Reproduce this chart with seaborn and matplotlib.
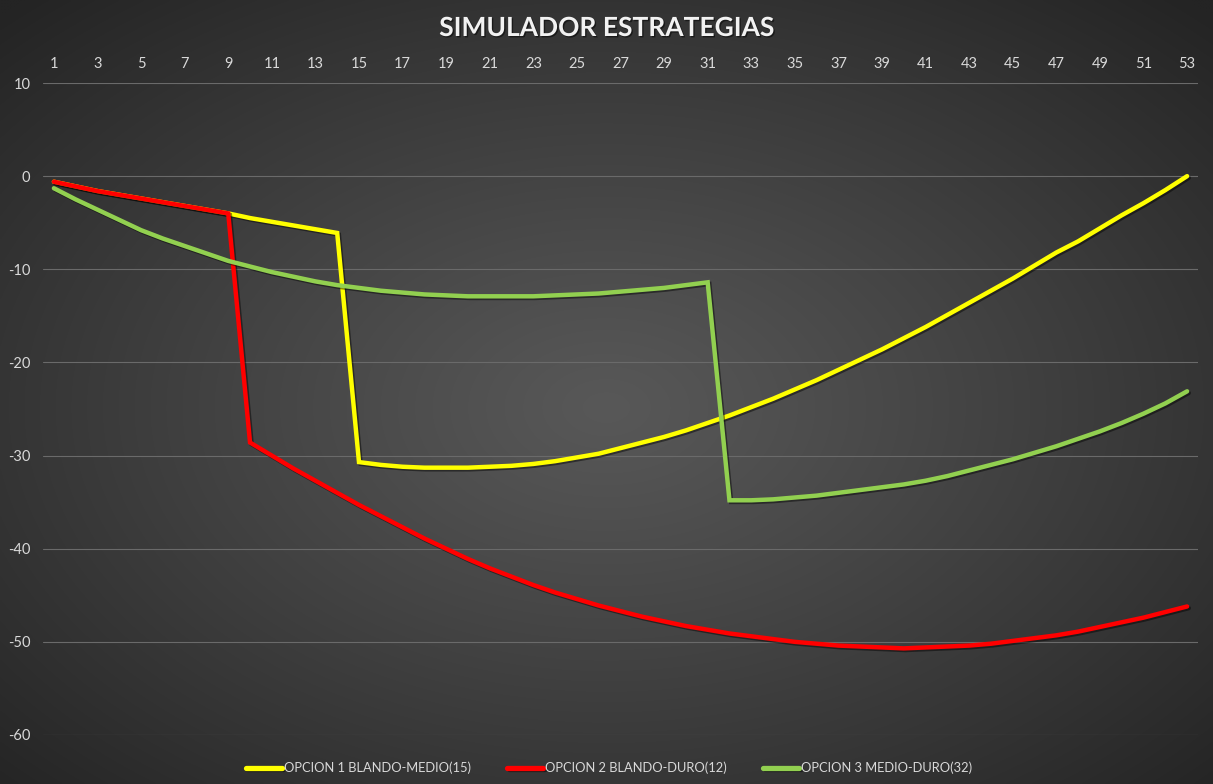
import numpy as np
import pandas as pd
import matplotlib
matplotlib.use("Agg")
import matplotlib.pyplot as plt
import matplotlib.patheffects as pe
import seaborn as sns

# ---------------- data ----------------
semanas = list(range(1, 54))

opcion1 = [-0.6, -1.1, -1.6, -2.0, -2.4, -2.8, -3.2, -3.6, -4.0,
           -4.5, -4.9, -5.3, -5.7, -6.1,
           -30.7, -31.0, -31.2, -31.3, -31.3, -31.3, -31.2, -31.1, -30.9, -30.6,
           -30.2, -29.8, -29.2, -28.6, -28.0, -27.3, -26.5, -25.7,
           -24.8, -23.9, -22.9, -21.9, -20.8, -19.7, -18.6, -17.4, -16.2, -14.9,
           -13.6, -12.3, -11.0, -9.6, -8.2, -7.0, -5.6, -4.2, -2.9, -1.5, 0.0]

opcion2 = [-0.6, -1.1, -1.6, -2.0, -2.4, -2.8, -3.2, -3.6, -4.0,
           -28.6, -30.0, -31.4, -32.7, -34.0, -35.3, -36.5, -37.7, -38.9, -40.0,
           -41.1, -42.1, -43.0, -43.9, -44.7, -45.4, -46.1, -46.7, -47.3, -47.8,
           -48.3, -48.7, -49.1, -49.4, -49.7, -50.0, -50.2, -50.4, -50.5, -50.6,
           -50.7, -50.6, -50.5, -50.4, -50.2, -49.9, -49.6, -49.3, -48.9, -48.4,
           -47.9, -47.4, -46.8, -46.2]

opcion3 = [-1.3, -2.5, -3.6, -4.7, -5.8, -6.7, -7.5, -8.3, -9.1, -9.7,
           -10.3, -10.8, -11.3, -11.7, -12.0, -12.3, -12.5, -12.7, -12.8, -12.9,
           -12.9, -12.9, -12.9, -12.8, -12.7, -12.6, -12.4, -12.2, -12.0, -11.7,
           -11.4,
           -34.8, -34.8, -34.7, -34.5, -34.3, -34.0, -33.7, -33.4, -33.1, -32.7,
           -32.2, -31.6, -31.0, -30.4, -29.7, -29.0, -28.2, -27.4, -26.5, -25.5,
           -24.4, -23.1]

series_names = ["OPCION 1 BLANDO-MEDIO(15)",
                "OPCION 2 BLANDO-DURO(12)",
                "OPCION 3 MEDIO-DURO(32)"]
series_colors = ["#FFFF00", "#FF0000", "#92D050"]
x_ticks = list(range(1, 54, 2))
y_ticks = list(range(-60, 11, 10))
titulo = "SIMULADOR ESTRATEGIAS"

df = pd.concat([
    pd.DataFrame({"semana": semanas, "valor": vals, "serie": name})
    for name, vals in zip(series_names, [opcion1, opcion2, opcion3])
], ignore_index=True)

# ---------------- style ----------------
sns.set_theme(style="dark")
plt.rcParams['font.family'] = ['Lato', 'DejaVu Sans']
plt.rcParams['axes.unicode_minus'] = False

W, H = 1213, 784
fig = plt.figure(figsize=(W / 100, H / 100), dpi=100)

# radial gradient background
bg = fig.add_axes([0, 0, 1, 1], zorder=0)
yy, xx = np.mgrid[0:1:400j, 0:1:600j]
r = np.sqrt(((xx - 0.5) / 0.5) ** 2 + ((yy - 0.52) / 0.5) ** 2) / np.sqrt(2)
r = np.clip(r, 0, 1)
g = (88 - (88 - 36) * r ** 1.1) / 255.0
img = np.dstack([g, g, g])
bg.imshow(img, aspect="auto", extent=[0, 1, 0, 1], origin="upper", interpolation="bilinear")
bg.set_axis_off()

ax = fig.add_axes([43 / W, 1 - 735 / H, (1198 - 43) / W, (735 - 83) / H], zorder=1)
ax.set_facecolor("none")
ax.patch.set_alpha(0)

sns.lineplot(data=df, x="semana", y="valor", hue="serie",
             hue_order=series_names, palette=series_colors,
             linewidth=3.2, ax=ax, legend=True, sort=False)

for ln in ax.lines:
    ln.set_solid_capstyle("round")
    ln.set_solid_joinstyle("miter")
    ln.set_path_effects([pe.SimpleLineShadow(offset=(1.2, -1.2), shadow_color="black", alpha=0.45),
                         pe.Normal()])

ax.set_xlim(0.5, 53.5)
ax.set_ylim(-60, 10)
ax.set_xticks(x_ticks)
ax.set_xticklabels([str(t) for t in x_ticks])
ax.set_yticks(y_ticks)
ax.set_yticklabels([str(t) for t in y_ticks])
ax.xaxis.tick_top()
ax.tick_params(axis="x", length=0, pad=9, labelsize=10.5, colors="#d9d9d9")
ax.tick_params(axis="y", length=0, pad=9, labelsize=10.5, colors="#d9d9d9")
ax.set_xlabel("")
ax.set_ylabel("")
ax.grid(False)
ax.yaxis.grid(True, color="#6a6a6a", linewidth=0.8)
for s in ax.spines.values():
    s.set_visible(False)

handles, labels = ax.get_legend_handles_labels()
ax.get_legend().remove()
leg = fig.legend(handles, labels, loc="center", bbox_to_anchor=(0.502, 1 - 768 / H),
                 ncol=3, frameon=False, fontsize=9.3, handlelength=2.8,
                 handletextpad=0.15, columnspacing=2.8, labelcolor="#d9d9d9")
for h in leg.legend_handles:
    h.set_linewidth(3.8)

fig.text(0.5, 1 - 28 / H, titulo, ha="center", va="center", fontsize=19,
         fontweight="bold", color="#f2f2f2",
         path_effects=[pe.withSimplePatchShadow(offset=(1, -1), shadow_rgbFace="black", alpha=0.5)])

fig.savefig("out.png", dpi=100)
